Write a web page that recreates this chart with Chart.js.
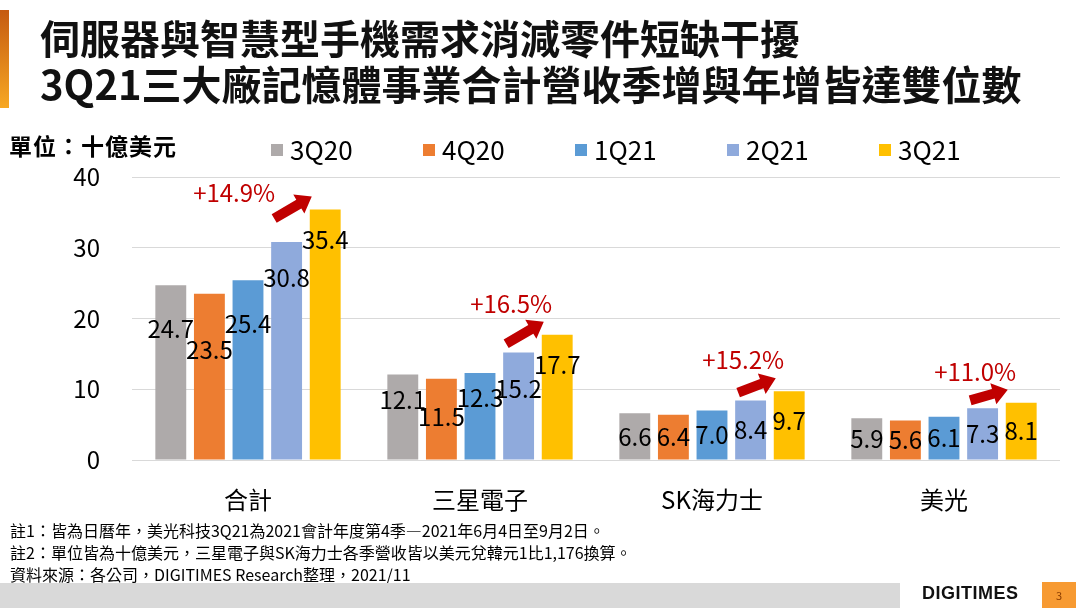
<!DOCTYPE html>
<html lang="zh-Hant">
<head>
<meta charset="utf-8">
<script src="https://cdn.jsdelivr.net/npm/chart.js@4.4.1/dist/chart.umd.min.js"></script>
<style>
  html, body { margin: 0; padding: 0; background: #fff; }
  body { width: 1080px; height: 616px; position: relative; overflow: hidden;
         font-family: "Noto Sans CJK TC", "Noto Sans", sans-serif; color: #000; }
  #chart { position: absolute; left: 0; top: 0; }
  .accent { position: absolute; left: 0; top: 10px; width: 9px; height: 98px;
            background: linear-gradient(#c55a11, #f7a823); }
  h1 { position: absolute; left: 40px; top: 14px; margin: 0; font-size: 40px;
       line-height: 46px; font-weight: 700; color: #111; }
  .unit { position: absolute; left: 9px; top: 128px; font-size: 23px; font-weight: 700; letter-spacing: 1px; }
  .notes { position: absolute; left: 10px; top: 519px; font-size: 16px; line-height: 22px; }
  .bar { position: absolute; left: 0; top: 583px; width: 900px; height: 25px; background: #d9d9d9; }
  .logo { position: absolute; left: 922px; top: 583px; font-family: "Liberation Sans", sans-serif;
          font-weight: 700; font-size: 18px; letter-spacing: 0.5px; color: #111; }
  .page { position: absolute; left: 1042px; top: 582px; width: 34px; height: 26px; background: #f79a32;
          color: #8a3c00; font-size: 11px; line-height: 26px; text-align: center; }
</style>
</head>
<body>
<canvas id="chart" width="1080" height="616"></canvas>
<div class="accent"></div>
<h1>伺服器與智慧型手機需求消減零件短缺干擾<br>3Q21三大廠記憶體事業合計營收季增與年增皆達雙位數</h1>
<div class="unit">單位：十億美元</div>
<div class="notes">
  註1：皆為日曆年，美光科技3Q21為2021會計年度第4季—2021年6月4日至9月2日。<br>
  註2：單位皆為十億美元，三星電子與SK海力士各季營收皆以美元兌韓元1比1,176換算。<br>
  資料來源：各公司，DIGITIMES Research整理，2021/11
</div>
<div class="bar"></div>
<div class="logo">DIGITIMES</div>
<div class="page">3</div>
<script>
// 公司別與季別
const categories = ['合計', '三星電子', 'SK海力士', '美光'];
const quarters = ['3Q20', '4Q20', '1Q21', '2Q21', '3Q21'];

// 各季記憶體營收（十億美元）
const rev3Q20 = [24.7, 12.1, 6.6, 5.9];
const rev4Q20 = [23.5, 11.5, 6.4, 5.6];
const rev1Q21 = [25.4, 12.3, 7.0, 6.1];
const rev2Q21 = [30.8, 15.2, 8.4, 7.3];
const rev3Q21 = [35.4, 17.7, 9.7, 8.1];

// 3Q21 季增率
const qoqGrowth = ['+14.9%', '+16.5%', '+15.2%', '+11.0%'];

// Y 軸刻度
const yTicks = [0, 10, 20, 30, 40];

const colors = ['#aeaaaa', '#ed7d31', '#5b9bd5', '#8faadc', '#ffc000'];
const FONT = '"Noto Sans CJK TC", "Noto Sans", sans-serif';
// posición de la etiqueta bajo el tope de la barra, por serie
const labelCap = [44, 56, 44, 36, 30];
const labelFrac = [0.28, 0.47, 0.28, 0.5, 0.5];

function drawArrow(ctx, x1, y1, x2, y2) {
    const ang = Math.atan2(y2 - y1, x2 - x1);
    const len = Math.hypot(x2 - x1, y2 - y1);
    const shaft = 5, head = 11, headLen = 15;
    ctx.save();
    ctx.translate(x1, y1);
    ctx.rotate(ang);
    ctx.beginPath();
    ctx.moveTo(0, -shaft);
    ctx.lineTo(len - headLen, -shaft);
    ctx.lineTo(len - headLen, -head);
    ctx.lineTo(len, 0);
    ctx.lineTo(len - headLen, head);
    ctx.lineTo(len - headLen, shaft);
    ctx.lineTo(0, shaft);
    ctx.closePath();
    ctx.fillStyle = '#c00000';
    ctx.fill();
    ctx.restore();
}

// Etiquetas de valores, flechas de crecimiento y leyenda
const annotate = {
    id: 'annotate',
    afterDatasetsDraw(chart) {
        const ctx = chart.ctx;
        ctx.save();
        ctx.font = '24px ' + FONT;
        ctx.textAlign = 'center';
        ctx.textBaseline = 'middle';
        ctx.fillStyle = '#000';
        chart.data.datasets.forEach(function(ds, i) {
            chart.getDatasetMeta(i).data.forEach(function(bar, j) {
                const h = bar.base - bar.y;
                const off = Math.min(labelCap[i], Math.max(h * labelFrac[i], Math.min(h / 2, 25)));
                ctx.fillText(ds.data[j].toFixed(1), bar.x, bar.y + off);
            });
        });

        const prev = chart.getDatasetMeta(3).data;
        const last = chart.getDatasetMeta(4).data;
        ctx.fillStyle = '#c00000';
        qoqGrowth.forEach(function(txt, j) {
            const a = prev[j], b = last[j];
            const hx = b.x - b.width / 2 + 2, hy = b.y - 13;
            const tx = a.x - a.width / 2 + 3, ty = Math.min(a.y - 8, hy + 22);
            drawArrow(ctx, tx, ty, hx, hy);
            let lx = tx + 5, ly = hy - 18;
            if (ly - 12 < chart.chartArea.top) { lx = tx - 40; ly = hy - 4; }
            ctx.fillText(txt, lx, ly);
        });

        // leyenda
        ctx.font = '26px ' + FONT;
        ctx.textAlign = 'left';
        chart.data.datasets.forEach(function(ds, i) {
            const x0 = 271 + i * 152;
            ctx.fillStyle = ds.backgroundColor;
            ctx.fillRect(x0, 144, 12, 12);
            ctx.fillStyle = '#000';
            ctx.fillText(ds.label, x0 + 19, 150);
        });
        ctx.restore();
    }
};

const series = [rev3Q20, rev4Q20, rev1Q21, rev2Q21, rev3Q21];

new Chart(document.getElementById('chart').getContext('2d'), {
    type: 'bar',
    data: {
        labels: categories,
        datasets: quarters.map(function(q, i) {
            return {
                label: q,
                data: series[i],
                backgroundColor: colors[i],
                categoryPercentage: 0.832,
                barPercentage: 0.8
            };
        })
    },
    options: {
        responsive: false,
        animation: false,
        layout: { padding: { top: 177, right: 20, bottom: 96, left: 0 } },
        plugins: {
            legend: { display: false },
            tooltip: { enabled: false }
        },
        scales: {
            x: {
                grid: { display: false },
                border: { display: false },
                ticks: { font: { family: FONT, size: 24 }, color: '#000', padding: 17 },
                afterFit: function(s) { s.height = 60; }
            },
            y: {
                min: 0,
                max: 40,
                grid: { color: '#d9d9d9', drawTicks: false },
                border: { display: false },
                ticks: { font: { family: FONT, size: 24 }, color: '#000', padding: 32 },
                afterBuildTicks: function(s) { s.ticks = yTicks.map(function(v) { return { value: v }; }); },
                afterFit: function(s) { s.width = 132; }
            }
        }
    },
    plugins: [annotate]
});
</script>
</body>
</html>
